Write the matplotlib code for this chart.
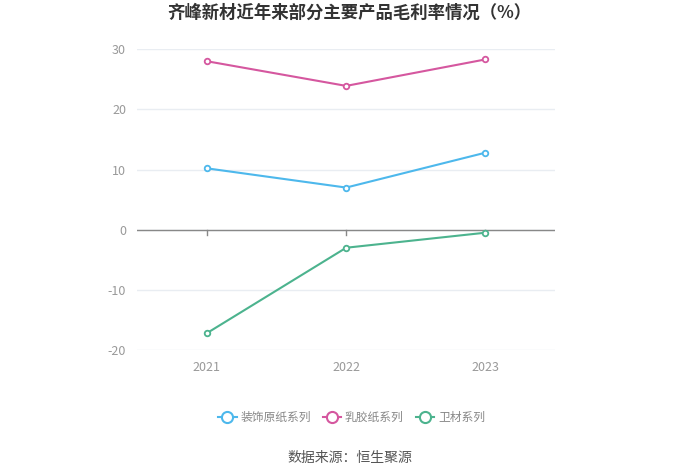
import matplotlib.pyplot as plt
from matplotlib.lines import Line2D

plt.rcParams['font.family'] = ['Noto Sans CJK SC', 'DejaVu Sans']
plt.rcParams['axes.unicode_minus'] = False

years = ["2021", "2022", "2023"]
decor = [10.2, 7.0, 12.8]
latex = [28.0, 23.9, 28.3]
sanitary = [-17.2, -3.0, -0.5]
series_names = ["装饰原纸系列", "乳胶纸系列", "卫材系列"]
colors = ["#4db8ec", "#d5579f", "#4cb38e"]


def main():
    fig = plt.figure(figsize=(7, 4.73), dpi=100)
    ax = fig.add_axes([0.196, 0.26, 0.597, 0.636])
    x = range(len(years))
    for vals, c in zip([decor, latex, sanitary], colors):
        ax.plot(x, vals, color=c, lw=1.5, marker="o", ms=4,
                mfc="white", mec=c, mew=1.3, zorder=3)

    ax.set_xlim(-0.5, 2.5)
    ax.set_ylim(-20, 30)
    ax.set_yticks([-20, -10, 0, 10, 20, 30])
    ax.set_xticks(list(x))
    ax.set_xticklabels(years)
    ax.grid(axis="y", color="#e9edf2", lw=1)
    ax.axhline(0, color="#888888", lw=1, zorder=2)
    for s in ax.spines.values():
        s.set_visible(False)
    ax.tick_params(axis="y", length=0, colors="#999999", labelsize=9, pad=8)
    ax.tick_params(axis="x", length=0, colors="#999999", labelsize=9, pad=8)
    for xi in x:
        ax.plot([xi, xi], [0, -0.8], color="#888888", lw=1, zorder=2,
                clip_on=False)

    handles = [Line2D([], [], color=c, lw=1.5, marker="o", ms=8,
                      mfc="white", mec=c, mew=1.5) for c in colors]
    fig.legend(handles, series_names, loc="center", ncol=3,
               bbox_to_anchor=(0.502, 0.118), frameon=False, fontsize=8.5,
               labelcolor="#888888", handlelength=1.6, columnspacing=1.0,
               handletextpad=0.3)

    fig.text(0.5, 0.972, "齐峰新材近年来部分主要产品毛利率情况（%）",
             ha="center", va="center", fontsize=12.5, fontweight="bold",
             color="#333333")
    fig.text(0.5, 0.032, "数据来源：恒生聚源", ha="center", va="center",
             fontsize=10, color="#555555")
    fig.savefig("out.png", dpi=100, facecolor="white")


if __name__ == "__main__":
    main()
